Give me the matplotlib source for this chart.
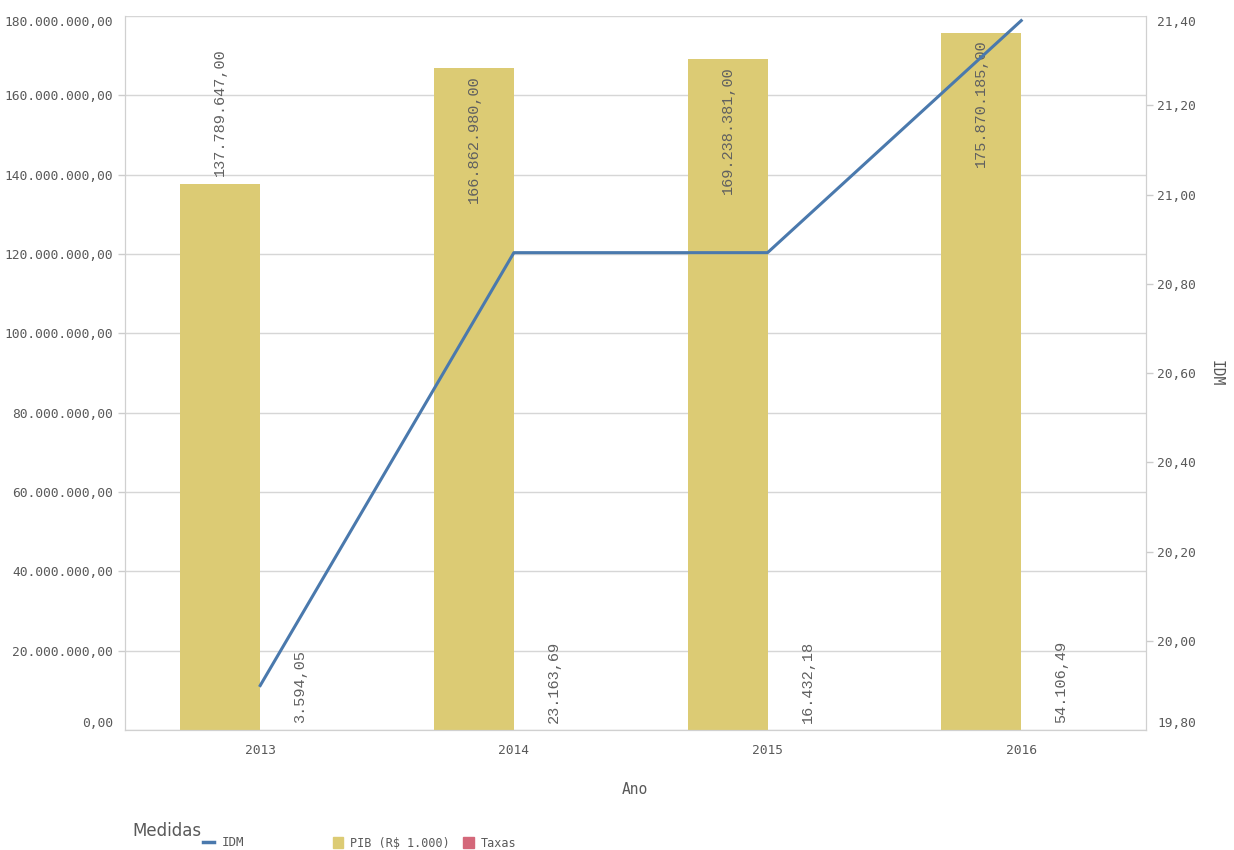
import numpy as np
import matplotlib
matplotlib.use('Agg')
import matplotlib.pyplot as plt
from matplotlib.lines import Line2D
from matplotlib.patches import Patch

# Dados
anos = ['2013', '2014', '2015', '2016']
pib = [137789647.00, 166862980.00, 169238381.00, 175870185.00]
taxas = [3594.05, 23163.69, 16432.18, 54106.49]
idm = [19.90, 20.87, 20.87, 21.39]

cor_pib = '#dccb74'
cor_taxas = '#d4687a'
cor_idm = '#4a79ad'
cor_txt = '#595959'
fonte = 'DejaVu Sans Mono'


def fmt_br(v, dec=2):
    s = f'{v:,.{dec}f}'
    return s.replace(',', 'X').replace('.', ',').replace('X', '.')


fig = plt.figure(figsize=(12.34, 8.5), dpi=100)
ax = fig.add_axes([0.1013, 0.141, 0.827, 0.840])
ax2 = ax.twinx()

x = np.arange(len(anos))
w = 0.315
ymax = 180e6

ax.bar(x - w / 2, pib, width=w, color=cor_pib, zorder=2)
ax.bar(x + w / 2, taxas, width=w, color=cor_taxas, zorder=2)
ax2.plot(x, idm, color=cor_idm, lw=2.2, zorder=3)

# rótulos das barras
rot = dict(rotation=90, ha='center', fontsize=11, family='Liberation Mono', color='#606060', zorder=4)
for xi, v in zip(x, pib):
    if ymax - v > 0.2 * ymax:
        ax.text(xi - w / 2, v + 0.01 * ymax, fmt_br(v), va='bottom', **rot)
    else:
        ax.text(xi - w / 2, v - 0.01 * ymax, fmt_br(v), va='top', **rot)
for xi, v in zip(x, taxas):
    ax.text(xi + w / 2, v + 0.01 * ymax, fmt_br(v), va='bottom', **rot)

ax.set_xlim(-0.533, 3.49)
ax.set_ylim(0, ymax)
ax2.set_ylim(19.8, 21.4)

ax.set_yticks(np.arange(0, ymax + 1, 20e6))
ax.set_yticklabels([fmt_br(t) for t in np.arange(0, ymax + 1, 20e6)])
ax2.set_yticks(np.arange(19.8, 21.41, 0.2))
ax2.set_yticklabels([fmt_br(t) for t in np.arange(19.8, 21.41, 0.2)])
ax.set_xticks(x)
ax.set_xticklabels(anos)

for a in (ax, ax2):
    a.tick_params(colors='#cccccc', labelcolor=cor_txt, labelsize=9.3, length=5, width=1)
    for lbl in a.get_yticklabels() + a.get_xticklabels():
        lbl.set_family(fonte)
    # rótulos das pontas ficam dentro da área
    ylbls = a.get_yticklabels()
    ylbls[0].set_va('bottom')
    ylbls[-1].set_va('top')
    ticks = a.yaxis.get_major_ticks()
    for t in (ticks[0], ticks[-1]):
        t.tick1line.set_visible(False)
        t.tick2line.set_visible(False)
    for s in a.spines.values():
        s.set_color('#d0d0d0')
    a.spines['top'].set_visible(False)
ax.tick_params(axis='x', length=0, pad=10)
ax.grid(axis='y', color='#d6d6d6', lw=1, zorder=0)
ax.set_axisbelow(True)

ax.set_xlabel('Ano', fontsize=10.5, color=cor_txt, family=fonte, labelpad=18)
ax2.set_ylabel('IDM', fontsize=10.5, color=cor_txt, family=fonte, rotation=270, labelpad=20)

# legenda
fig.text(0.107, 0.016, 'Medidas', fontsize=12, color=cor_txt, family='DejaVu Sans Condensed')
leg1 = fig.legend([Line2D([0], [0], color=cor_idm, lw=2.5)], ['IDM'], loc='lower left',
                  bbox_to_anchor=(0.155, -0.012), frameon=False, handlelength=0.9,
                  handletextpad=0.6, prop={'family': fonte, 'size': 9})
leg2 = fig.legend([Patch(color=cor_pib), Patch(color=cor_taxas)], ['PIB (R$ 1.000)', 'Taxas'],
                  ncol=2, loc='lower left', bbox_to_anchor=(0.261, -0.012), frameon=False,
                  handlelength=0.9, handleheight=1.0, handletextpad=0.6, columnspacing=1.1,
                  prop={'family': fonte, 'size': 8.5})
for lg in (leg1, leg2):
    for t in lg.get_texts():
        t.set_color(cor_txt)

fig.savefig('out.png', dpi=100)
